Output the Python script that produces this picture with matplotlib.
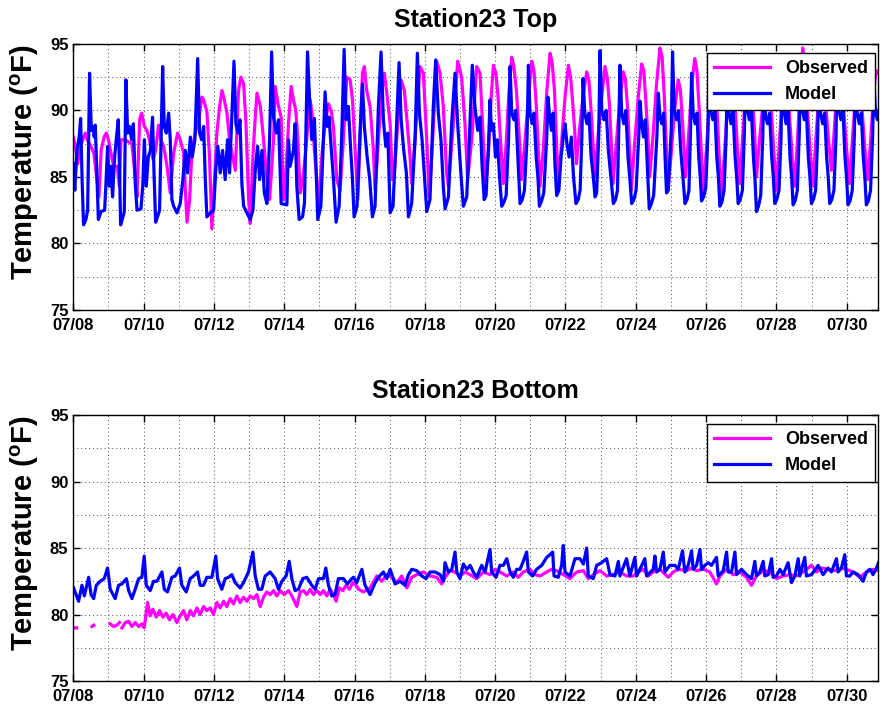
import numpy as np
import matplotlib
matplotlib.use('Agg')
import matplotlib.pyplot as plt
import matplotlib.dates as mdates
from matplotlib.ticker import MultipleLocator
from datetime import datetime

nan = float('nan')

# (hours since 07/08 00:00, temperature in F)
top_observed = [
    (0, 88.0), (1.4, 87.3), (3, 86.0), (4.8, 87.3), (8.2, 88.3), (9.5, 87.8), (12, 87.3), (14, 86.8),
    (17.5, 83.5), (19, 87.0), (21, 88.0), (22.5, 88.3), (24, 87.8), (25.7, 86.8), (27.5, 85.8), (30, 85.8),
    (31.5, 84.3), (32.5, 87.8), (35, 87.8), (40, 87.5), (42, 85.3), (43.5, 83.5), (45.3, 89.3), (46.6, 89.8),
    (48.5, 88.8), (50.3, 88.5), (52, 87.8), (54.4, 86.3), (56.2, 87.0), (58.2, 88.9), (59.8, 87.8), (61.7, 87.3),
    (64, 85.8), (66.2, 83.8), (68.5, 86.8), (71.2, 88.3), (73, 87.8), (75.3, 86.8), (77.6, 81.6), (79.4, 83.3),
    (81, 87.0), (83.3, 88.3), (85.6, 89.3), (87.8, 91.0), (89, 90.8), (91.2, 89.9), (93, 86.5), (94.6, 81.1),
    (96.2, 84.3), (98, 88.3), (99.9, 90.3), (101.5, 91.5), (103.1, 90.8), (104.9, 89.8), (106.7, 87.8),
    (108.3, 86.8), (110.6, 85.5), (112.8, 91.5), (114.4, 92.5), (116.3, 92.0), (117.9, 89.0), (119.7, 83.3),
    (120.8, 81.5), (122.6, 86.5), (124.2, 89.5), (125.4, 91.3), (127.7, 90.3), (129.9, 87.8), (132.2, 84.8),
    (134, 83.3), (136.7, 87.8), (137.8, 91.8), (140.1, 90.3), (141.9, 89.5), (143.5, 83.3), (144.6, 84.0),
    (146.9, 89.0), (148.7, 91.8), (150.3, 90.8), (151.9, 90.0), (153.3, 87.8), (154.9, 83.8), (156.4, 84.5),
    (158.3, 86.5), (160.1, 88.8), (161.7, 90.8), (163.3, 89.5), (164.6, 87.0), (166.2, 84.8), (167.4, 82.3),
    (169.6, 86.5), (171.9, 89.0), (174.2, 90.5), (176, 90.0), (177.6, 88.8), (179.9, 84.8), (182.1, 84.0),
    (184.4, 87.8), (186.7, 92.5), (189, 92.3), (190.6, 90.8), (192.4, 87.0), (194.2, 83.3), (195.8, 87.8),
    (197.4, 92.8), (198.7, 93.3), (200.3, 91.5), (202.6, 90.3), (204.9, 87.0), (206, 84.0), (208.3, 87.8),
    (210.6, 91.5), (212.4, 92.8), (214, 91.3), (216.3, 89.0), (217.8, 84.8), (219.2, 85.3), (221.5, 89.0),
    (223.8, 92.3), (226, 91.5), (227.6, 89.5), (229.9, 86.5), (231, 84.5), (233.3, 87.8), (236.7, 93.3),
    (239, 92.8), (241.3, 87.8), (242.9, 83.5), (244.7, 86.5), (248.1, 93.7), (250.4, 92.8), (252.6, 90.3),
    (254.9, 85.3), (256.1, 84.3), (259.5, 89.0), (262.4, 93.7), (265.1, 92.5), (267.4, 89.0), (269.2, 84.8),
    (272, 87.8), (275.4, 93.3), (277.7, 92.8), (279.9, 87.8),
    (281.5, 84.5), (283.5, 87.0), (285.3, 91.0), (286.8, 93.4), (288.5, 92.8), (290, 91.0), (291.5, 88.0),
    (293.6, 84.5), (295.5, 87.5), (297.5, 91.5), (299.3, 94.0), (300.8, 93.3), (302.5, 91.5), (304.2, 88.5),
    (306.1, 84.8), (308.2, 87.5), (310.8, 91.0), (313, 93.7), (314.5, 93.0), (316, 90.5), (317.3, 87.5),
    (318.6, 84.3), (320.8, 87.0), (323.3, 91.5), (325.5, 94.3), (327, 93.5), (328.5, 91.5), (329.8, 88.0),
    (331.1, 84.3), (333.3, 87.5), (335.7, 91.0), (338, 93.4), (339.5, 92.5), (341, 90.5), (342.3, 88.5),
    (343.5, 86.0), (345.5, 88.5), (348, 91.0), (350.5, 92.9), (352, 92.3), (353.5, 90.0), (354.8, 87.5),
    (356, 85.0), (358.2, 88.0), (360.7, 91.0), (363, 93.3), (364.5, 92.5), (366, 90.5), (367.3, 87.5),
    (368.5, 84.5), (370.7, 87.5), (373.2, 90.8), (375.5, 92.9), (377, 92.3), (378.5, 90.0), (379.8, 87.0),
    (381, 84.0), (383.2, 87.5), (385.7, 91.0), (388, 93.5), (389.5, 93.0), (391, 90.5), (392.3, 88.0),
    (393.5, 85.0), (395.7, 88.0), (398.2, 92.0), (400.5, 94.7), (402, 94.0), (403.5, 91.0), (404.8, 87.5),
    (406, 84.0), (408, 86.5), (410.5, 90.0), (413, 92.3), (414.5, 91.5), (416, 89.0), (417, 87.0),
    (418, 85.0), (420, 88.0), (422.3, 92.0), (424.3, 93.9), (425.8, 93.0), (427.3, 90.0), (428.7, 87.0),
    (430, 83.8), (432.2, 87.0), (434.5, 91.0), (436.5, 93.0), (438, 92.5), (439.5, 90.0), (441, 86.5),
    (442.5, 83.5), (444.7, 87.0), (447, 91.0), (449, 93.0), (450.5, 92.3), (452, 90.0), (453.5, 87.0),
    (455, 84.5), (457, 88.0), (459, 91.5), (461, 93.5), (462.5, 92.8), (464, 90.5), (465.3, 88.0),
    (466.4, 85.0), (468.7, 88.0), (471.2, 91.0), (473.5, 93.0), (475, 92.3), (476.5, 90.0), (478.2, 87.0),
    (480, 84.0), (482, 87.5), (484, 91.0), (486, 93.0), (487.5, 92.3), (489, 89.5), (490.8, 86.5),
    (492.6, 84.3), (494.5, 88.0), (496.3, 92.0), (498, 94.7), (499.5, 93.5), (501, 90.5), (503, 87.0),
    (505, 84.3), (507, 88.0), (509, 91.0), (511, 93.0), (512.5, 92.3), (514, 90.0), (515.8, 87.5),
    (517.6, 85.5), (519.5, 88.5), (521.3, 91.5), (523, 93.0), (524.5, 92.3), (526, 90.0), (528, 87.0),
    (530, 84.5), (532, 88.0), (534, 91.0), (535.5, 93.0), (537, 92.3), (538.5, 90.0), (540.5, 87.0),
    (542.5, 84.8), (544.5, 88.0), (546.5, 91.5), (548, 93.0), (549.6, 92.8),
]

top_model = [
    (0, 86.0), (1, 84.0), (2.5, 87.0), (4, 88.0), (5, 89.4), (6, 84.8), (7, 81.4), (8.6, 81.8), (9.8, 82.5),
    (11.1, 92.8), (12.3, 88.5), (13.4, 88.8), (14.3, 88.0), (15, 88.9), (16.2, 84.8), (17.1, 81.8),
    (18.9, 82.4), (21.4, 82.5), (22.5, 85.0), (23.4, 87.3), (24.6, 84.3), (25.7, 85.8), (26.8, 83.5),
    (28.2, 86.5), (29.3, 87.8), (30.7, 89.3), (31.6, 85.3), (32.3, 81.4), (33.9, 82.0), (34.8, 82.4),
    (35.9, 92.3), (37.1, 88.3), (38.4, 88.8), (39.8, 87.8), (41, 89.0), (42.3, 84.5), (43.5, 82.5),
    (46.2, 82.6), (47.5, 84.5), (48.5, 87.8), (49.8, 84.3), (51.2, 86.5), (52.6, 87.0), (54.1, 89.5),
    (55.1, 85.3), (56.2, 81.6), (57.8, 82.1), (58.9, 82.5), (61, 93.3), (62.1, 88.8), (63.5, 88.3),
    (65.1, 89.8), (66.2, 87.8), (67.3, 83.3), (68.5, 82.8), (70.8, 82.3), (73, 83.0), (74.8, 84.8),
    (76.4, 87.0), (78, 85.3), (79.9, 88.0), (81.2, 86.5), (83, 87.8), (84.9, 93.9), (86.2, 88.3),
    (87.6, 87.8), (89, 88.8), (90.1, 84.8), (91.2, 82.0), (93.5, 82.3), (95.8, 82.5), (97.4, 85.8),
    (98.7, 87.3), (100.3, 85.3), (101.9, 87.0), (103.7, 84.8), (105.3, 87.8), (106.7, 85.3), (108.3, 89.8),
    (109.7, 93.7), (111, 89.0), (112.4, 88.3), (113.8, 89.3), (115.1, 84.5), (116.3, 82.8), (118.5, 82.3),
    (120.8, 81.8), (122.6, 82.5), (124.4, 85.8), (125.8, 87.3), (127.2, 84.8), (128.8, 87.0), (130.4, 83.8),
    (132.2, 83.0), (134, 87.8), (135.4, 94.4), (136.7, 89.5), (138.5, 88.3), (140.1, 89.3),
    (141.9, 83.0), (145.8, 82.9), (146.9, 87.8), (148, 85.8), (150.3, 87.0), (151.4, 89.0), (152.6, 84.3),
    (154.2, 81.8), (156.5, 82.0), (157.8, 83.0), (159.9, 94.4), (161.5, 90.3), (162.8, 87.8), (164.6, 89.4),
    (166, 84.8), (166.9, 81.8), (169, 82.8), (170.3, 86.5), (171.9, 91.4), (173.3, 88.8), (174.6, 89.5),
    (176.5, 86.5), (177.8, 84.5), (179.4, 81.6), (181.5, 82.8), (183.3, 88.3), (184.9, 94.6), (186.2, 89.3),
    (187.8, 90.3), (189.4, 87.0), (190.6, 84.8), (191.7, 82.0), (193.7, 82.8), (195.8, 88.5), (197.4, 92.0),
    (198.7, 88.8), (200.6, 86.5), (202.4, 84.8), (204.2, 82.0), (206, 82.8), (208.3, 90.3), (210.1, 94.4),
    (211.7, 89.3), (213.3, 87.3), (214.7, 88.3), (216.3, 82.3), (218.3, 82.8), (220.1, 87.3), (222.4, 93.6),
    (223.8, 89.3), (225.6, 87.0), (227.4, 85.3), (228.8, 82.0), (231, 83.0), (233.3, 87.8), (234.9, 94.3),
    (236.3, 89.8), (238.1, 87.8), (239.9, 84.8), (241.3, 82.4), (243.5, 83.3), (245.8, 90.3), (247.4, 93.8),
    (249.2, 89.8), (251, 87.8), (252.6, 84.3), (253.8, 82.6), (256.1, 83.5), (258.3, 89.0), (260.6, 92.8),
    (262.4, 89.0), (264, 86.3), (265.1, 84.5), (266.3, 82.8), (268.6, 83.5), (270.8, 89.0), (272.4, 93.4),
    (274.2, 90.3), (276.1, 88.5), (277.7, 89.5), (279, 86.0), (280.5, 83.3),
    (281.8, 83.6), (283.5, 87.5), (284.5, 90.8), (285.5, 88.5), (286.8, 89.0), (288.2, 86.5), (289.5, 87.8),
    (291, 85.0), (292.5, 82.8), (294, 83.1), (295.5, 83.6), (297.2, 88.0), (298.2, 93.3), (299.3, 89.8),
    (300.8, 89.3), (302, 90.0), (303.3, 87.0), (304.2, 85.0), (305, 83.0), (306.5, 83.3), (308, 84.0),
    (309.8, 88.0), (310.7, 93.4), (311.8, 89.8), (313.3, 89.0), (314.5, 89.8), (316, 86.5), (317.2, 85.0),
    (318.2, 82.8), (319.7, 83.2), (321.2, 83.8), (323.2, 88.0), (324.1, 91.0), (325.2, 89.5), (326.5, 88.5),
    (327.6, 89.8), (328.8, 86.0), (330, 83.6), (331.5, 84.0), (333, 86.5), (334.5, 88.0), (335.7, 89.0),
    (337, 87.5), (338.5, 86.5), (340, 88.0), (341.5, 85.0), (343.2, 83.0), (344.7, 83.3), (346, 84.0),
    (347.2, 88.0), (348, 92.4), (349.2, 89.8), (350.7, 89.0), (352, 89.8), (353.5, 86.5), (355, 85.0),
    (356.2, 83.5), (357.3, 83.8), (358.7, 88.0), (359.6, 94.5), (360.8, 90.0), (362.3, 89.3), (363.8, 90.0),
    (365.3, 87.0), (367, 85.0), (368.7, 83.0), (370.2, 83.3), (371.5, 84.0), (372.4, 88.5), (373.2, 93.4),
    (374.4, 89.8), (375.8, 89.0), (377.2, 90.0), (378.7, 86.5), (380, 84.8), (381.2, 83.0), (382.7, 83.3),
    (384.2, 84.0), (386, 88.0), (386.9, 90.7), (388, 89.0), (389.3, 88.0), (390.5, 89.3), (391.8, 86.0),
    (393.2, 82.6), (394.7, 83.0), (396.2, 83.6), (398.4, 88.0), (399.4, 91.3), (400.5, 89.5), (401.8, 89.0),
    (403, 89.8), (404, 86.5), (405, 83.8), (406.2, 84.0), (408.2, 88.5), (409.1, 94.4), (410.3, 90.0),
    (411.8, 89.3), (413.2, 90.0), (414.7, 87.0), (416.2, 85.0), (417.6, 83.0), (419, 83.3), (420.3, 84.0),
    (421.3, 88.0), (422.1, 92.8), (423.2, 89.8), (424.5, 89.0), (425.8, 89.8), (427, 86.5), (428, 85.0),
    (428.9, 83.2), (430.3, 83.5), (431.8, 84.2), (433.2, 88.0), (434, 93.5), (435.2, 90.0), (436.6, 89.3),
    (438, 90.0), (439.3, 86.5), (440.4, 85.0), (441.4, 82.8), (442.8, 83.1), (444.3, 84.0), (445.7, 88.0),
    (446.5, 93.0), (447.7, 89.8), (449, 89.0), (450.4, 90.0), (451.8, 86.5), (452.9, 85.0), (453.9, 83.0),
    (455.3, 83.3), (456.8, 84.0), (458.2, 88.5), (459, 94.0), (460.2, 90.0), (461.6, 89.3), (463, 90.0),
    (464.3, 86.5), (465.4, 84.8), (466.4, 82.4), (467.8, 82.8), (469.3, 83.6), (470.7, 88.0), (471.5, 92.5),
    (472.7, 89.5), (474, 89.0), (475.4, 89.8), (476.8, 86.5), (477.9, 85.0), (478.9, 83.0), (480.3, 83.3),
    (481.8, 84.0), (483.2, 88.0), (484, 93.5), (485.2, 90.0), (486.6, 89.0), (488, 90.0), (489.3, 86.5),
    (490.4, 85.0), (491.4, 82.9), (492.8, 83.2), (494.3, 84.0), (495.7, 88.5), (496.5, 94.0), (497.7, 90.0),
    (499.1, 89.3), (500.5, 90.0), (501.8, 86.5), (502.9, 85.0), (503.9, 83.0), (505.3, 83.3), (506.8, 84.0),
    (508.2, 88.0), (509, 93.0), (510.2, 89.8), (511.6, 89.0), (513, 89.8), (514.3, 86.5), (515.4, 85.0),
    (516.4, 83.0), (517.8, 83.3), (519.3, 84.0), (520.7, 88.0), (521.5, 93.5), (522.7, 90.0), (524.1, 89.3),
    (525.5, 90.0), (526.8, 86.5), (527.9, 85.0), (528.9, 82.9), (530.3, 83.2), (531.8, 84.0), (533.2, 88.0),
    (534, 92.8), (535.2, 89.8), (536.6, 89.0), (538, 89.8), (539.3, 86.5), (540.4, 85.0), (541.4, 82.9),
    (542.8, 83.2), (544.3, 84.0), (545.7, 88.0), (546.5, 92.5), (547.7, 89.8), (549, 89.3), (550, 90.0),
]

bottom_observed = [
    (1.5, 79.0), (2.3, 79.0), (nan, nan), (12.7, 79.1), (14.0, 79.2), (nan, nan),
    (25.2, 79.3), (27.5, 79.1), (29.8, 79.2), (31.5, 79.4), (nan, nan),
    (33.2, 79.0), (35.5, 79.4), (37.8, 79.5), (40.0, 79.1), (42.3, 79.4), (44.6, 79.1), (46.8, 79.3),
    (48.4, 79.0), (50.7, 80.9), (52.5, 79.9), (54.3, 80.4), (56.6, 79.8), (58.9, 80.3), (61.2, 79.8),
    (63.4, 80.1), (65.7, 79.6), (68.0, 80.0), (70.7, 79.4), (73.0, 79.9), (75.3, 80.3), (77.5, 79.6),
    (79.8, 80.3), (82.1, 79.9), (84.4, 80.5), (86.6, 80.0), (88.9, 80.6), (91.2, 80.3), (93.5, 80.5),
    (95.7, 80.0), (98.0, 80.9), (100.3, 80.5), (102.6, 81.0), (104.8, 80.6), (107.1, 81.2), (109.4, 80.8),
    (111.6, 81.4), (113.9, 80.9), (116.2, 81.3), (118.5, 81.0), (120.8, 81.4), (123.0, 81.2), (125.3, 81.5),
    (127.6, 80.6), (129.8, 81.3), (132.1, 81.7), (134.4, 81.5), (136.7, 81.8), (138.9, 81.4), (141.2, 81.8),
    (143.9, 81.5), (146.9, 81.8), (149.2, 81.4), (152.6, 80.6), (154.9, 81.7), (157.1, 81.8), (159.4, 81.5),
    (161.7, 81.9), (164.0, 81.5), (166.2, 81.8), (168.5, 81.5), (170.8, 81.8), (173.1, 81.4), (175.3, 81.9),
    (177.6, 81.5), (179.4, 81.0), (181.7, 82.0), (184.0, 81.8), (186.2, 82.2), (188.5, 81.9), (190.8, 82.4),
    (193.1, 82.2), (194.7, 81.9), (198.1, 81.7), (202.6, 82.0), (207.2, 82.9), (210.6, 82.5), (214.0, 83.0),
    (217.4, 82.8), (220.8, 82.4), (224.2, 82.9), (227.7, 82.0), (231.1, 82.8), (234.5, 83.0), (239.0, 83.2),
    (243.6, 82.9), (248.1, 82.8), (251.5, 82.3), (253.8, 82.8), (257.2, 83.3), (260.6, 83.2), (264.0, 82.9),
    (267.5, 83.2), (270.9, 83.0), (275.4, 82.7), (280.0, 83.2), (284.5, 83.0), (287.9, 83.4), (291.3, 83.2),
    (295.9, 82.9), (300.4, 83.2), (303.8, 82.8), (307.2, 83.2), (311.8, 83.4), (315.2, 83.0), (318.6, 82.9),
    (323.2, 83.2), (326.6, 83.4), (330.0, 83.3), (334.5, 83.0), (339.1, 82.7), (343.6, 83.2), (348.2, 83.3),
    (351.6, 82.7), (355.0, 83.0), (359.6, 83.3), (364.1, 82.9), (368.6, 83.0), (373.2, 83.2), (377.7, 82.9),
    (382.3, 82.9), (385.7, 83.2), (389.1, 83.4), (392.5, 82.9), (395.9, 83.2), (400.5, 83.4), (406.2, 82.8),
    (409.6, 83.2), (413.0, 83.4), (418.7, 83.3), (422.1, 83.5), (425.5, 83.3), (430.1, 83.4), (434.6, 83.2),
    (439.1, 82.3), (441.4, 82.9), (446.0, 83.4), (450.5, 83.0), (455.1, 83.2), (459.6, 82.8), (463.0, 82.2),
    (466.4, 82.9), (471.0, 83.3), (475.5, 83.2), (480.1, 82.7), (484.6, 82.9), (489.2, 83.0), (493.7, 82.9),
    (498.3, 83.2), (504.0, 83.7), (507.4, 83.2), (510.8, 83.5), (515.3, 83.4), (519.9, 83.3), (524.4, 83.5),
    (527.8, 83.4), (532.4, 83.2), (536.9, 82.8), (541.5, 83.2), (546.0, 83.4), (549.4, 83.3),
]

bottom_model = [
    (0.2, 82.0), (3.6, 81.0), (5.9, 82.2), (7.5, 81.4), (10.5, 82.8), (12.1, 81.5), (13.9, 81.2), (15.7, 82.2),
    (18.4, 82.5), (21.1, 82.7), (23.4, 83.5), (25.2, 81.9), (28.6, 81.2), (30.9, 82.2), (33.2, 82.3),
    (36.2, 82.7), (37.8, 81.8), (40.0, 81.2), (42.3, 81.9), (44.6, 82.7), (46.8, 82.8), (48.4, 84.4),
    (49.8, 82.2), (52.5, 81.8), (54.8, 82.5), (57.1, 82.5), (60.5, 83.2), (62.1, 81.9), (64.3, 81.7),
    (67.3, 82.8), (69.6, 82.9), (72.5, 83.5), (74.1, 82.2), (77.1, 81.7), (79.8, 82.7), (82.1, 82.9),
    (84.8, 83.2), (86.6, 82.2), (88.9, 82.2), (91.2, 82.8), (94.6, 82.8), (97.3, 84.4), (98.5, 82.7),
    (101.4, 81.9), (103.7, 82.7), (106.0, 82.8), (108.2, 83.0), (110.5, 82.4), (113.9, 82.0), (116.2, 82.4),
    (119.6, 83.2), (122.6, 84.7), (124.2, 82.9), (126.4, 81.9), (128.7, 81.9), (131.0, 82.9), (134.4, 83.2),
    (137.8, 82.7), (140.1, 81.9), (142.4, 82.5), (145.3, 82.9), (147.4, 84.0), (149.2, 82.7), (151.4, 81.8),
    (153.7, 81.9), (156.7, 82.7), (159.4, 82.8), (162.8, 82.2), (165.1, 81.9), (167.4, 82.7), (170.8, 82.7),
    (172.4, 83.5), (174.2, 82.2), (176.5, 81.4), (178.7, 81.5), (181.0, 82.7), (184.4, 82.7), (187.2, 82.3),
    (190.1, 82.7), (191.3, 82.8), (193.5, 82.4), (197.0, 83.4), (199.2, 82.2), (202.6, 81.5), (206.1, 82.4),
    (208.3, 82.8), (211.7, 83.2), (214.0, 82.7), (216.3, 83.4), (219.7, 82.3), (223.1, 82.5), (226.5, 82.2),
    (228.8, 83.0), (231.1, 83.4), (234.5, 83.3), (237.9, 82.9), (240.8, 82.7), (243.6, 83.2), (247.0, 83.2),
    (250.4, 83.0), (252.7, 82.5), (253.8, 83.9), (256.1, 83.2), (258.4, 83.4), (260.6, 84.7), (261.8, 83.2),
    (264.0, 82.7), (266.3, 83.8), (268.6, 83.4), (270.9, 83.7), (273.1, 83.2), (275.4, 82.8), (278.8, 83.7),
    (281.1, 83.2), (284.5, 84.9), (285.6, 83.2), (288.6, 82.8), (291.3, 83.7), (293.6, 83.7), (295.9, 84.2),
    (298.2, 83.2), (300.4, 82.8), (302.7, 83.4), (305.0, 83.4), (307.2, 84.0), (309.5, 84.7), (310.7, 83.2),
    (313.6, 82.9), (316.3, 83.4), (319.8, 83.7), (323.2, 84.3), (325.4, 84.5), (327.3, 84.7), (328.2, 82.9),
    (331.1, 82.8), (333.4, 83.7), (334.5, 85.2), (335.7, 83.2), (339.1, 82.9), (342.5, 84.2), (345.9, 84.2),
    (348.2, 83.8), (350.5, 85.0), (351.6, 82.9), (355.0, 82.7), (357.3, 83.7), (360.7, 83.9), (364.1, 84.2),
    (366.4, 83.0), (369.8, 82.9), (372.1, 84.0), (373.2, 82.9), (377.7, 84.2), (380.0, 82.9), (383.4, 84.3),
    (384.6, 82.9), (386.8, 83.4), (390.2, 84.2), (391.4, 82.9), (395.9, 83.4), (397.1, 84.4), (398.2, 83.2),
    (400.5, 83.4), (402.8, 84.7), (403.9, 83.2), (407.3, 83.7), (410.7, 83.7), (413.0, 83.4), (415.9, 84.8),
    (417.5, 83.2), (419.8, 83.7), (422.1, 84.8), (423.2, 83.4), (425.5, 83.7), (427.8, 84.9), (428.9, 83.4),
    (431.2, 83.7), (433.5, 83.9), (435.7, 83.7), (439.1, 84.3), (440.3, 82.9), (443.7, 83.3), (446.0, 84.7),
    (447.1, 83.2), (449.4, 83.2), (451.7, 84.7), (452.8, 83.0), (456.2, 83.4), (459.6, 83.0), (463.0, 82.7),
    (465.3, 84.0), (466.4, 82.9), (468.7, 83.2), (471.0, 84.0), (472.1, 82.9), (474.4, 83.0), (476.7, 84.2),
    (477.8, 82.8), (480.1, 82.9), (482.4, 83.4), (484.6, 83.0), (488.0, 83.9), (490.3, 82.4), (492.6, 82.9),
    (494.9, 84.2), (496.0, 82.9), (499.4, 84.3), (500.5, 82.9), (504.0, 83.0), (508.5, 83.7), (511.9, 83.0),
    (515.3, 83.5), (517.6, 83.2), (521.0, 84.2), (522.1, 83.2), (524.4, 83.5), (526.7, 84.5), (527.8, 82.9),
    (530.1, 82.9), (532.4, 83.2), (535.8, 83.0), (539.2, 82.5), (541.5, 83.2), (543.8, 83.4), (546.0, 83.0),
    (548.3, 83.5), (550.1, 84.0),
]

start = mdates.date2num(datetime(2014, 7, 8))
last_hour = 549.6

plt.rcParams['font.family'] = 'Liberation Sans'
plt.rcParams['font.weight'] = 'bold'
plt.rcParams['mathtext.fontset'] = 'custom'
plt.rcParams['mathtext.rm'] = 'Liberation Sans:bold'
plt.rcParams['mathtext.bf'] = 'Liberation Sans:bold'

fig = plt.figure(figsize=(8.8, 7.09), dpi=100)

panels = [
    ('Station23 Top', top_observed, top_model, [0.0833, 0.5628, 0.9148, 0.3752]),
    ('Station23 Bottom', bottom_observed, bottom_model, [0.0833, 0.0395, 0.9148, 0.3750]),
]

for title, obs, mod, rect in panels:
    ax = fig.add_axes(rect)
    for series, color, label in ((obs, '#ff00ff', 'Observed'), (mod, '#0000ff', 'Model')):
        hrs, temp = np.array(series, dtype=float).T
        ax.plot(start + hrs / 24.0, temp, color=color, lw=2.3, label=label)

    ax.set_xlim(start, start + last_hour / 24.0)
    ax.set_ylim(75, 95)
    ax.xaxis.set_major_locator(mdates.DayLocator(bymonthday=range(8, 31, 2)))
    ax.xaxis.set_minor_locator(mdates.DayLocator())
    ax.xaxis.set_major_formatter(mdates.DateFormatter('%m/%d'))
    ax.yaxis.set_major_locator(MultipleLocator(5))
    ax.yaxis.set_minor_locator(MultipleLocator(2.5))
    ax.tick_params(which='both', direction='in', top=True, right=True)
    ax.tick_params(which='major', length=5, width=1, labelsize=12)
    ax.tick_params(axis='x', which='major', pad=6)
    ax.tick_params(which='minor', length=0)
    ax.grid(which='both', linestyle=(0, (1, 3)), color='0.3', lw=0.7)
    for sp in ax.spines.values():
        sp.set_linewidth(1.0)

    ax.set_title(title, fontsize=18, fontweight='bold', pad=12)
    ax.set_ylabel(r'Temperature ($^{\mathbf{o}}$F)', fontsize=21, fontweight='bold')
    ax.yaxis.set_label_coords(-0.040, 0.557)

    leg = ax.legend(loc='upper right', bbox_to_anchor=(0.996, 0.966), borderaxespad=0,
                    fancybox=False, edgecolor='k', framealpha=1, handlelength=3.1,
                    prop={'weight': 'bold', 'size': 13})
    leg.get_frame().set_linewidth(1.0)

fig.savefig('out.png', dpi=100)
